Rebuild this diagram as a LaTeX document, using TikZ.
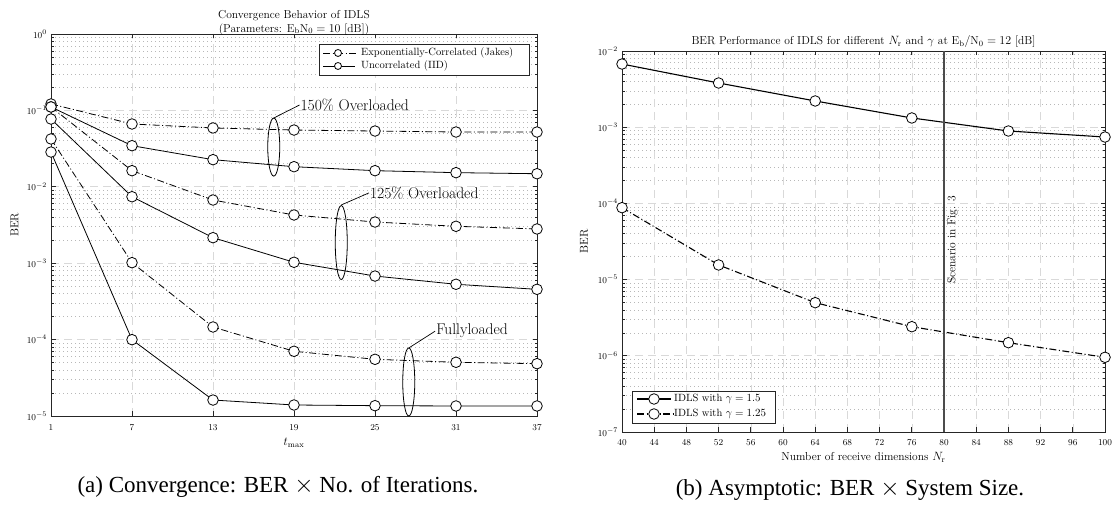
\documentclass[tikz,border=0pt]{standalone}
\usepackage{amsmath}
\usepackage{fontspec}
\usepackage{tikz}
\usetikzlibrary{plotmarks,%
                positioning}
\newfontfamily\capfont{Liberation Serif}

\tikzset{majorgrid/.style={black!15, line width=0.6pt, dash pattern=on 8pt off 5pt},
         minorgrid/.style={black!28, line width=0.6pt, dash pattern=on 0.8pt off 3.2pt},
         axisbox/.style={black!85, line width=0.8pt},
         ticklabel/.style={font=\fontsize{9.5}{11}\selectfont, inner sep=1pt},
         axislabel/.style={font=\fontsize{11.5}{13}\selectfont},
         titlelabel/.style={font=\fontsize{11.5}{14}\selectfont, align=center},
         legendlabel/.style={font=\fontsize{10.5}{12}\selectfont, anchor=west, inner sep=1pt},
         annotlabel/.style={font=\fontsize{15.5}{18}\selectfont, anchor=west, inner sep=1pt},
         captionlabel/.style={font=\capfont\fontsize{23}{27}\selectfont},
         iid/.style={black, line width=0.8pt, mark=*, mark size=5.3pt,
                     mark options={solid, fill=white, draw=black, line width=0.8pt}},
         jakes/.style={iid, dash pattern=on 7pt off 2.5pt on 1pt off 2.5pt},
         iidthick/.style={iid, line width=1.1pt},
         jakesthick/.style={jakes, line width=1.1pt}}

\begin{document}
\begin{tikzpicture}[x=1pt, y=1pt]
\useasboundingbox (0,0) rectangle (1115,510);
%convergence plot
\begin{scope}[shift={(37.5pt,94pt)}, x=13.5pt, y=76.4pt]
\foreach \d in {0,...,4}
  \foreach \k in {2,...,9}
    \draw[minorgrid] (1,{\d+log10(\k)}) -- (37,{\d+log10(\k)});
\foreach \d in {1,...,4} \draw[majorgrid] (1,\d) -- (37,\d);
\foreach \x in {7,13,...,31} \draw[majorgrid] (\x,0) -- (\x,5);
\foreach \d in {0,...,4}
  \foreach \k in {2,...,9}
    \draw[axisbox, line width=0.6pt] (1,{\d+log10(\k)}) -- ++(2.5pt,0) (37,{\d+log10(\k)}) -- ++(-2.5pt,0);
\foreach \d in {0,...,5} {
  \pgfmathtruncatemacro\ex{\d-5}
  \draw[axisbox] (1,\d) -- ++(4.5pt,0) (37,\d) -- ++(-4.5pt,0);
  \node[ticklabel, anchor=east, xshift=-3pt] (lyt\d) at (1,\d) {$10^{\ex}$};
}
\foreach \x in {1,7,...,37} {
  \draw[axisbox] (\x,0) -- ++(0,4.5pt) (\x,5) -- ++(0,-4.5pt);
  \node[ticklabel, yshift=-12pt] (lxt\x) at (\x,0) {$\x$};
}
\draw[axisbox] (1,0) rectangle (37,5);
\node[axislabel, rotate=90] (lber) at (-1.7,2.5) {BER};
\node[axislabel] (ltmax) at (19,-0.35) {$t_{\max}$};
\node[titlelabel] (ltitle) at (19,5.15) {Convergence Behavior of IDLS\\(Parameters: $\mathrm{E_bN_0}=10$ [dB])};
\draw[jakes] plot coordinates {(1,4.084) (7,3.822) (13,3.770) (19,3.743) (25,3.730) (31,3.717) (37,3.717)};
\draw[iid]   plot coordinates {(1,4.045) (7,3.538) (13,3.355) (19,3.263) (25,3.211) (31,3.185) (37,3.171)};
\draw[jakes] plot coordinates {(1,4.045) (7,3.211) (13,2.827) (19,2.631) (25,2.539) (31,2.483) (37,2.448)};
\draw[iid]   plot coordinates {(1,3.887) (7,2.870) (13,2.334) (19,2.012) (25,1.832) (31,1.724) (37,1.658)};
\draw[jakes] plot coordinates {(1,3.626) (7,2.007) (13,1.165) (19,0.847) (25,0.742) (31,0.703) (37,0.685)};
\draw[iid]   plot coordinates {(1,3.455) (7,0.999) (13,0.209) (19,0.144) (25,0.135) (31,0.131) (37,0.131)};
\draw[line width=0.8pt] (17.5,3.52) ellipse [x radius=6pt, y radius=29pt];
\draw[line width=0.8pt] (22.5,2.27) ellipse [x radius=6pt, y radius=37pt];
\draw[line width=0.8pt] (27.5,0.445) ellipse [x radius=6pt, y radius=34pt];
\node[annotlabel] (ov150) at (19.4,4.07) {150\% Overloaded};
\node[annotlabel] (ov125) at (24.55,2.92) {125\% Overloaded};
\node[annotlabel] (ovfull) at (29.45,1.11) {Fullyloaded};
\coordinate (e150) at (17.5,3.90);
\coordinate (e125) at (22.5,2.762);
\coordinate (efull) at (27.5,0.89);
\draw[line width=0.7pt] (e150) -- (ov150.west);
\draw[line width=0.7pt] (e125) -- (ov125.west);
\draw[line width=0.7pt] (efull) -- (ovfull.west);
\end{scope}
%legend convergence
\draw[axisbox, fill=white] (319,435) rectangle (529,466);
\draw[black, line width=0.8pt, dash pattern=on 7pt off 2.5pt on 1pt off 2.5pt] (323,457) -- (357,457);
\draw[black, line width=0.8pt, fill=white] (338,457) circle [radius=3.5pt];
\node[legendlabel] (lgjakes) at (360,457) {Exponentially-Correlated (Jakes)};
\draw[black, line width=0.8pt] (323,444) -- (355,444);
\draw[black, line width=0.8pt, fill=white] (338,444) circle [radius=3.5pt];
\node[legendlabel] (lgiid) at (360,444) {Uncorrelated (IID)};
%asymptotic plot
\begin{scope}[shift={(300pt,78pt)}, x=8.05pt, y=76.2pt]
\foreach \d in {0,...,4}
  \foreach \k in {2,...,9}
    \draw[minorgrid] (40,{\d+log10(\k)}) -- (100,{\d+log10(\k)});
\foreach \d in {1,...,4} \draw[majorgrid] (40,\d) -- (100,\d);
\foreach \x in {44,48,...,96} \draw[majorgrid] (\x,0) -- (\x,5);
\foreach \d in {0,...,4}
  \foreach \k in {2,...,9}
    \draw[axisbox, line width=0.6pt] (40,{\d+log10(\k)}) -- ++(2.5pt,0) (100,{\d+log10(\k)}) -- ++(-2.5pt,0);
\foreach \d in {0,...,5} {
  \pgfmathtruncatemacro\ex{\d-7}
  \draw[axisbox] (40,\d) -- ++(4.5pt,0) (100,\d) -- ++(-4.5pt,0);
  \node[ticklabel, anchor=east, xshift=-3pt] (ryt\d) at (40,\d) {$10^{\ex}$};
}
\foreach \x in {40,44,...,100} {
  \draw[axisbox] (\x,0) -- ++(0,4.5pt) (\x,5) -- ++(0,-4.5pt);
  \node[ticklabel, yshift=-11pt] (rxt\x) at (\x,0) {$\x$};
}
\draw[axisbox] (40,0) rectangle (100,5);
\node[axislabel, rotate=90] (rber) at (35.3,2.5) {BER};
\node[axislabel] (rnr) at (70,-0.33) {Number of receive dimensions $N_\mathrm{r}$};
\node[titlelabel] (rtitle) at (70,5.12) {BER Performance of IDLS for different $N_\mathrm{r}$ and $\gamma$ at $\mathrm{E_b/N_0}=12$ [dB]};
\draw[iidthick]   plot coordinates {(40,4.829) (52,4.58) (64,4.344) (76,4.121) (88,3.95) (100,3.871)};
\draw[jakesthick] plot coordinates {(40,2.944) (52,2.192) (64,1.697) (76,1.382) (88,1.172) (100,0.98)};
\coordinate (sbot) at (80,0);
\coordinate (stop) at (80,5);
\draw[black!70, line width=1.4pt] (sbot) -- (stop);
\node[axislabel, rotate=90, anchor=north, inner sep=3pt] (scen) at (80,2.52) {Scenario in Fig. 3};
\end{scope}
%legend asymptotic
\draw[axisbox, fill=white] (632,87) rectangle (775,119);
\draw[black, line width=1.1pt] (637,111) -- (671,111);
\draw[black, line width=0.8pt, fill=white] (654,111) circle [radius=5.3pt];
\node[legendlabel] (lggam15) at (673,111) {IDLS with $\gamma=1.5$};
\draw[black, line width=1.1pt, dash pattern=on 7pt off 2.5pt on 1pt off 2.5pt] (637,96) -- (673,96);
\draw[black, line width=0.8pt, fill=white] (654,96) circle [radius=5.3pt];
\node[legendlabel] (lggam125) at (673,96) {IDLS with $\gamma=1.25$};
%captions
\node[captionlabel] (capa) at (278,23) {(a) Convergence: BER $\times$ No. of Iterations.};
\node[captionlabel] (capb) at (850,20) {(b) Asymptotic: BER $\times$ System Size.};
\end{tikzpicture}
\end{document}
